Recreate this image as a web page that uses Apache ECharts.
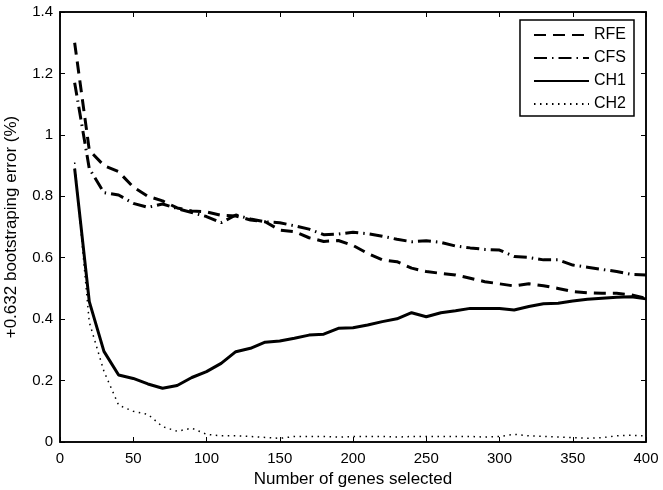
<!DOCTYPE html>
<html>
<head>
<meta charset="utf-8">
<script src="https://cdn.jsdelivr.net/npm/echarts@6/dist/echarts.min.js"></script>
<style>html,body{margin:0;padding:0;background:#fff;}#c{width:663px;height:490px;}</style>
</head>
<body>
<div id="c"></div>
<script>
var genes = [10,20,30,40,50,60,70,80,90,100,110,120,130,140,150,160,170,180,190,200,210,220,230,240,250,260,270,280,290,300,310,320,330,340,350,360,370,380,390,400];
var rfe = [1.30,0.95,0.90,0.88,0.83,0.80,0.785,0.762,0.752,0.749,0.738,0.736,0.723,0.717,0.690,0.685,0.665,0.653,0.656,0.640,0.614,0.593,0.587,0.566,0.555,0.549,0.544,0.533,0.522,0.515,0.508,0.515,0.509,0.500,0.490,0.486,0.484,0.484,0.479,0.468];
var cfs = [1.17,0.89,0.812,0.804,0.777,0.764,0.775,0.760,0.747,0.734,0.714,0.739,0.726,0.717,0.714,0.704,0.693,0.675,0.677,0.683,0.678,0.670,0.660,0.652,0.655,0.650,0.638,0.632,0.627,0.625,0.604,0.601,0.593,0.593,0.576,0.569,0.562,0.555,0.546,0.544];
var ch1 = [0.89,0.457,0.295,0.218,0.207,0.189,0.175,0.184,0.210,0.229,0.256,0.294,0.305,0.325,0.329,0.338,0.348,0.351,0.370,0.372,0.381,0.392,0.401,0.421,0.408,0.421,0.427,0.435,0.435,0.435,0.430,0.441,0.450,0.452,0.459,0.465,0.468,0.471,0.473,0.466];
var ch2 = [0.91,0.39,0.23,0.12,0.10,0.09,0.05,0.035,0.045,0.025,0.02,0.02,0.018,0.015,0.012,0.018,0.018,0.018,0.016,0.018,0.018,0.018,0.016,0.018,0.018,0.018,0.018,0.018,0.016,0.018,0.025,0.02,0.018,0.016,0.014,0.012,0.014,0.02,0.022,0.02];
var xTicks = [0,50,100,150,200,250,300,350,400];
var yTicks = [0,0.2,0.4,0.6,0.8,1,1.2,1.4];

function pairs(ys){ return genes.map(function(g,i){ return [g, ys[i]]; }); }
var font = 'Liberation Sans, Arial, Helvetica, sans-serif';
var chart = echarts.init(document.getElementById('c'), null, {renderer:'canvas'});
function axisCommon(){
  return {
    axisLine:{show:true,onZero:false,lineStyle:{color:'#000',width:1.5}},
    axisTick:{show:true,inside:true,length:5,lineStyle:{color:'#000',width:1}},
    splitLine:{show:false}
  };
}
chart.setOption({
  animation:false,
  backgroundColor:'#fff',
  grid:{left:60,right:17,top:12,bottom:48,containLabel:false,outerBoundsMode:'none',
    show:true,borderColor:'#000',borderWidth:1.5,backgroundColor:'transparent'},
  legend:{
    orient:'vertical', right:29, top:20,
    backgroundColor:'#fff', borderColor:'#000', borderWidth:1.5,
    padding:[7,8,4,13], itemWidth:55, itemHeight:14, itemGap:7,
    itemStyle:{color:'rgba(0,0,0,0)',borderWidth:0,opacity:0},
    textStyle:{fontFamily:font,fontSize:16,color:'#000'},
    data:['RFE','CFS','CH1','CH2']
  },
  xAxis:[
    Object.assign({type:'value',min:0,max:400,interval:50,position:'bottom',gridIndex:0,
      name:'Number of genes selected',nameLocation:'middle',nameGap:29,
      nameTextStyle:{fontFamily:font,fontSize:17,color:'#000'},
      axisLabel:{fontFamily:font,fontSize:15,color:'#000',margin:9}}, axisCommon()),
    Object.assign({type:'value',min:0,max:400,interval:50,position:'top',gridIndex:0,
      axisLabel:{show:false}}, axisCommon())
  ],
  yAxis:[
    Object.assign({type:'value',min:0,max:1.4,interval:0.2,position:'left',gridIndex:0,
      name:'+0.632 bootstraping error (%)',nameLocation:'middle',nameGap:40,
      nameTextStyle:{fontFamily:font,fontSize:17,color:'#000'},
      axisLabel:{fontFamily:font,fontSize:15,color:'#000',margin:7,
        formatter:function(v){return String(Math.round(v*10)/10);}}}, axisCommon()),
    Object.assign({type:'value',min:0,max:1.4,interval:0.2,position:'right',gridIndex:0,
      axisLabel:{show:false}}, axisCommon())
  ],
  series:[
    {name:'RFE',type:'line',data:pairs(rfe),symbol:'none',
      lineStyle:{color:'#000',width:3,type:[12,7]},itemStyle:{color:'#000'}},
    {name:'CFS',type:'line',data:pairs(cfs),symbol:'none',
      lineStyle:{color:'#000',width:3,type:[13,5,1.5,5]},itemStyle:{color:'#000'}},
    {name:'CH1',type:'line',data:pairs(ch1),symbol:'none',
      lineStyle:{color:'#000',width:3,type:'solid'},itemStyle:{color:'#000'}},
    {name:'CH2',type:'line',data:pairs(ch2),symbol:'none',
      lineStyle:{color:'#000',width:1.5,type:[1.5,4.5]},itemStyle:{color:'#000'}},
    {name:'_frame',type:'line',data:[[0,0]],xAxisIndex:1,yAxisIndex:1,symbol:'none',silent:true,
      lineStyle:{opacity:0}}
  ]
});
</script>
</body>
</html>
